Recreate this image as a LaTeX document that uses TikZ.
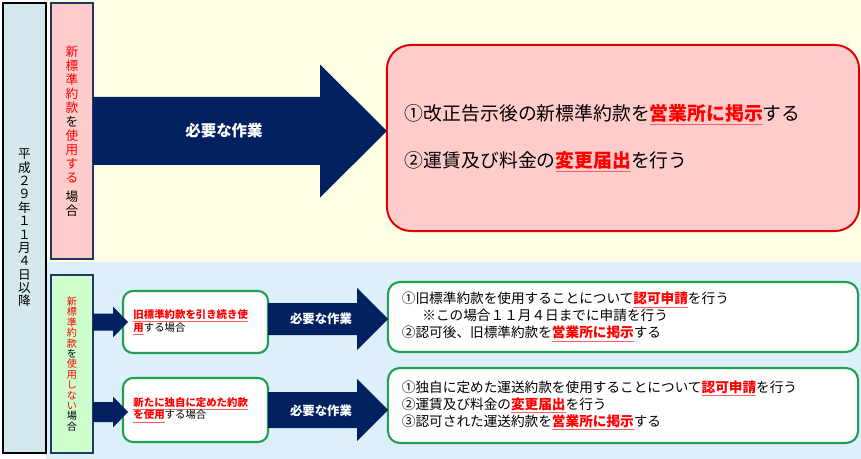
\documentclass[tikz,border=0pt]{standalone}
\usepackage{fontspec}
\setmainfont{Noto Sans CJK JP}
\usetikzlibrary{positioning}
\definecolor{eraBlue}{HTML}{D3E9ED}
\definecolor{topBg}{HTML}{FFFFE6}
\definecolor{botBg}{HTML}{DDEFFB}
\definecolor{pinkFill}{HTML}{FFCCCC}
\definecolor{greenFill}{HTML}{CCFFCC}
\definecolor{navyArrow}{HTML}{002060}
\definecolor{navyLine}{HTML}{1F3864}
\definecolor{alertRed}{HTML}{E00000}
\definecolor{ulRed}{HTML}{FF6060}
\definecolor{caseGreen}{HTML}{22A052}
\newcommand{\redul}[1]{\textcolor{ulRed}{\underline{\textcolor{red}{\bfseries #1}}}}
\newcommand{\blockarrow}[6]{\fill[navyArrow] (#1,#3-#4) -- (#2-#6,#3-#4) -- (#2-#6,#3-#5) -- (#2,#3) -- (#2-#6,#3+#5) -- (#2-#6,#3+#4) -- (#1,#3+#4) -- cycle;}
\begin{document}
\begin{tikzpicture}[x=0.025cm,y=-0.025cm,
    sidebox/.style={draw=navyLine,line width=1.3pt,inner sep=0pt,text width=1em,align=center},
    casebox/.style={draw=caseGreen,fill=white,line width=1.5pt,rounded corners=0.25cm,minimum width=3.625cm,text width=3.1cm,inner xsep=0.26cm,align=left,font=\fontsize{7.4}{9.2}\selectfont},
    resbox/.style={draw=caseGreen,fill=white,line width=1.5pt,rounded corners=0.3cm,minimum width=11.75cm,text width=11.05cm,inner xsep=0.35cm,align=left,font=\fontsize{9.7}{12}\selectfont},
    worklabel/.style={text=white,font=\bfseries\fontsize{8.8}{10}\selectfont}]
            \useasboundingbox (0,0) rectangle (861,459);
            \fill[topBg] (46,0) rectangle (861,262);
            \fill[botBg] (46,262) rectangle (861,459);

            \node[sidebox,draw=black,line width=1.6pt,fill=eraBlue,minimum width=1.075cm,minimum height=11.25cm,font=\fontsize{9}{9.5}\selectfont] (era) at (24.5,228) {平\\成\\２\\９\\年\\１\\１\\月\\４\\日\\以\\降};
            \node[sidebox,fill=pinkFill,minimum width=1.05cm,minimum height=6.4cm,font=\fontsize{9}{10}\selectfont] (usenew) at (72,131) {\color{red}新\\標\\準\\約\\款\\\color{black}を\\\color{red}使\\用\\す\\る\\[3pt]\color{black}場\\合};
            \node[sidebox,fill=greenFill,minimum width=1.05cm,minimum height=4.45cm,font=\fontsize{7.2}{7.4}\selectfont] (nousenew) at (72,364) {\color{red}新\\標\\準\\約\\款\\\color{black}を\\\color{red}使\\用\\し\\な\\い\\\color{black}場\\合};

            \node[draw=alertRed,fill=pinkFill,line width=1.4pt,rounded corners=0.6cm,minimum width=11.8cm,minimum height=4.65cm,text width=10.9cm,inner xsep=0.45cm,align=left,font=\fontsize{13.4}{33.4}\selectfont] (newres) at (623,138) {①改正告示後の新標準約款を\redul{営業所に掲示}する\\②運賃及び料金の\redul{変更届出}を行う};
            \blockarrow{93}{387}{131}{34}{66.5}{67}
            \node[worklabel,font=\bfseries\fontsize{11}{13}\selectfont] (work) at (224,131) {必要な作業};

            \node[casebox,minimum height=1.55cm] (oldcase) at (195.5,322) {\redul{旧標準約款を引き続き使}\\\redul{用}する場合};
            \node[casebox,minimum height=1.6cm] (owncase) at (195.5,410) {\redul{新たに独自に定めた約款}\\\redul{を使用}する場合};
            \node[resbox,minimum height=1.75cm] (oldres) at (623,317) {①旧標準約款を使用することについて\redul{認可申請}を行う\\\hspace*{1.5em}※この場合１１月４日までに申請を行う\\②認可後、旧標準約款を\redul{営業所に掲示}する};
            \node[resbox,minimum height=1.875cm] (ownres) at (623,405.5) {①独自に定めた運送約款を使用することについて\redul{認可申請}を行う\\②運賃及び料金の\redul{変更届出}を行う\\③認可された運送約款を\redul{営業所に掲示}する};

            \blockarrow{93}{128}{322}{8.5}{15.5}{15}
            \blockarrow{93}{128}{412}{10}{15.5}{15}
            \blockarrow{268}{388}{319}{16}{31}{31}
            \blockarrow{268}{388}{410}{18}{31}{31}
            \node[worklabel] (oldwork) at (321,319) {必要な作業};
            \node[worklabel] (ownwork) at (321,411) {必要な作業};
\end{tikzpicture}
\end{document}
